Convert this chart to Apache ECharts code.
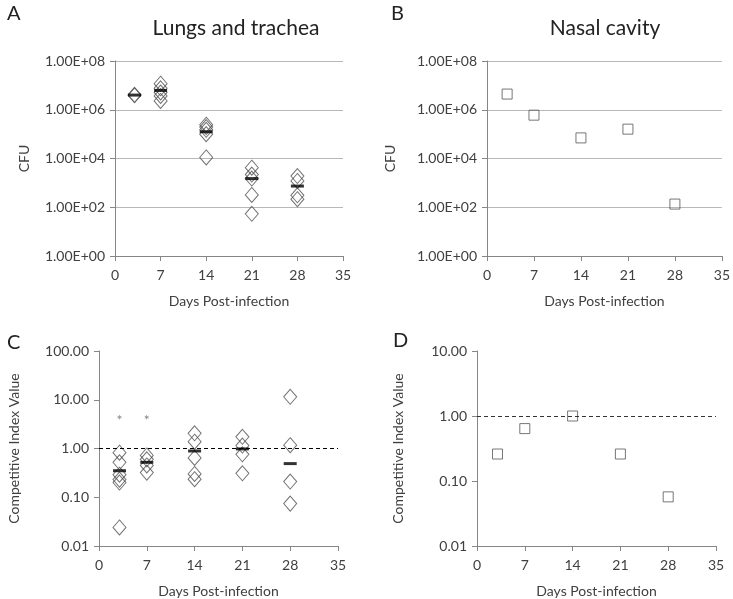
<!DOCTYPE html>
<html><head><meta charset="utf-8">
<script src="https://cdn.jsdelivr.net/npm/echarts@6/dist/echarts.min.js"></script>
<style>html,body{margin:0;padding:0;background:#fff}#c{width:733px;height:599px}</style>
</head><body><div id="c"></div>
<script>
// ---- Data ----
const dayTicks = [0, 7, 14, 21, 28, 35];
// Panel A: Lungs and trachea (CFU)
const lungDays = [3, 3, 7, 7, 7, 7, 7, 14, 14, 14, 14, 14, 21, 21, 21, 21, 21, 28, 28, 28, 28];
const lungCFU  = [3.9e6, 4.1e6, 1.17e7, 7.6e6, 5.1e6, 3.7e6, 2.3e6, 2.45e5, 1.95e5, 1.5e5, 1.0e5, 1.1e4, 4.2e3, 2.2e3, 1.5e3, 3.2e2, 54, 1.9e3, 1.2e3, 3.1e2, 2.15e2];
const lungMeanDays = [3, 7, 14, 21, 28];
const lungMean = [4.0e6, 6.2e6, 1.25e5, 1.5e3, 7.4e2];
// Panel B: Nasal cavity (CFU)
const nasalDays = [3, 7, 14, 21, 28];
const nasalCFU  = [4.4e6, 6.0e5, 7.0e4, 1.6e5, 1.35e2];
// Panel C: Competitive index, lungs and trachea
const ciLungDays = [3, 3, 3, 3, 3, 3, 7, 7, 7, 7, 14, 14, 14, 14, 14, 21, 21, 21, 21, 28, 28, 28, 28];
const ciLung     = [0.82, 0.52, 0.29, 0.23, 0.2, 0.024, 0.72, 0.6, 0.45, 0.32, 2.05, 1.38, 0.64, 0.3, 0.235, 1.74, 1.15, 0.76, 0.31, 11.5, 1.17, 0.21, 0.074];
const ciLungMeanDays = [3, 7, 14, 21, 28];
const ciLungMean = [0.35, 0.52, 0.89, 0.98, 0.49];
const starDays = [3, 7];
const starLevel = [4.3, 4.3];
// Panel D: Competitive index, nasal cavity
const ciNasalDays = [3, 7, 14, 21, 28];
const ciNasal     = [0.26, 0.64, 1.0, 0.26, 0.057];
const reference = 1;

// ---- Chart ----
const FONT = 'Lato';
const txt = '#404040';
const pair = (xs, ys) => xs.map((x, i) => [x, ys[i]]);
const sciFmt = v => { const e = Math.round(Math.log10(v)); return '1.00E+' + (e < 10 ? '0' + e : e); };
const fixFmt = v => Number(v).toFixed(2);

const grids = [
  {left: 115, top: 61, width: 228, height: 195},
  {left: 487, top: 61, width: 238, height: 195},
  {left: 99, top: 351, width: 239, height: 196},
  {left: 477, top: 351, width: 239, height: 196}
];

function xAx(i) {
  return {
    type: 'value', gridIndex: i, min: 0, max: 35, interval: 7,
    name: 'Days Post-infection', nameLocation: 'middle', nameGap: 38,
    nameTextStyle: {fontFamily: FONT, fontSize: 14, color: txt},
    axisLine: {lineStyle: {color: '#868686', width: 1}},
    axisTick: {show: true, length: 5, lineStyle: {color: '#868686'}},
    axisLabel: {fontFamily: FONT, fontSize: 14, color: txt, margin: 12},
    splitLine: {show: false}
  };
}
function yAx(i, opts) {
  return Object.assign({
    type: 'log', logBase: 10, gridIndex: i, interval: 1,
    nameLocation: 'middle', nameRotate: 90,
    nameTextStyle: {fontFamily: FONT, fontSize: 14, color: txt},
    axisLine: {show: true, lineStyle: {color: '#868686', width: 1}},
    axisTick: {show: true, length: 5, lineStyle: {color: '#868686'}},
    axisLabel: {fontFamily: FONT, fontSize: 14, color: txt, margin: 10},
    splitLine: {show: false}
  }, opts);
}

const diamond = {color: 'rgba(0,0,0,0)', borderColor: '#505050', borderWidth: 1};
const squareStyle = {color: 'rgba(0,0,0,0)', borderColor: '#555', borderWidth: 1};
const bar = {type: 'scatter', symbol: 'rect', symbolSize: [13, 3], itemStyle: {color: '#000'}, z: 5};

const option = {
  animation: false,
  backgroundColor: '#fff',
  title: [
    {text: 'Lungs and trachea', left: 231, top: 13, textAlign: 'center', textStyle: {fontFamily: FONT, fontSize: 21, fontWeight: 'normal', color: '#222'}},
    {text: 'Nasal cavity', left: 600, top: 13, textAlign: 'center', textStyle: {fontFamily: FONT, fontSize: 21, fontWeight: 'normal', color: '#222'}},
    {text: 'A', left: 2, top: -1, textStyle: {fontFamily: FONT, fontSize: 20, fontWeight: 'normal', color: '#222'}},
    {text: 'B', left: 386, top: -1, textStyle: {fontFamily: FONT, fontSize: 20, fontWeight: 'normal', color: '#222'}},
    {text: 'C', left: 2, top: 328, textStyle: {fontFamily: FONT, fontSize: 20, fontWeight: 'normal', color: '#222'}},
    {text: 'D', left: 388, top: 326, textStyle: {fontFamily: FONT, fontSize: 20, fontWeight: 'normal', color: '#222'}}
  ],
  grid: grids,
  xAxis: [xAx(0), xAx(1), xAx(2), xAx(3)],
  yAxis: [
    yAx(0, {min: 1, max: 1e8, interval: 2, name: 'CFU', nameGap: 84, axisLabel: {fontFamily: FONT, fontSize: 14, color: txt, margin: 10, formatter: sciFmt},
      splitLine: {show: true, lineStyle: {color: '#b8b8b8', width: 1}}}),
    yAx(1, {min: 1, max: 1e8, interval: 2, name: 'CFU', nameGap: 90, axisLabel: {fontFamily: FONT, fontSize: 14, color: txt, margin: 10, formatter: sciFmt},
      splitLine: {show: true, lineStyle: {color: '#b8b8b8', width: 1}}}),
    yAx(2, {min: 0.01, max: 100, name: 'Competitive Index Value', nameGap: 78, axisLabel: {fontFamily: FONT, fontSize: 14, color: txt, margin: 10, formatter: fixFmt}}),
    yAx(3, {min: 0.01, max: 10, name: 'Competitive Index Value', nameGap: 72, axisLabel: {fontFamily: FONT, fontSize: 14, color: txt, margin: 10, formatter: fixFmt}})
  ],
  series: [
    {type: 'scatter', xAxisIndex: 0, yAxisIndex: 0, symbol: 'diamond', symbolSize: [13, 15], itemStyle: diamond, data: pair(lungDays, lungCFU)},
    Object.assign({xAxisIndex: 0, yAxisIndex: 0, data: pair(lungMeanDays, lungMean)}, bar),
    {type: 'scatter', xAxisIndex: 1, yAxisIndex: 1, symbol: 'rect', symbolSize: 10, itemStyle: squareStyle, data: pair(nasalDays, nasalCFU)},
    {type: 'scatter', xAxisIndex: 2, yAxisIndex: 2, symbol: 'diamond', symbolSize: [13, 15], itemStyle: diamond, data: pair(ciLungDays, ciLung),
      markLine: {silent: true, symbol: 'none', label: {show: false}, lineStyle: {color: '#000', type: [4, 3], width: 1}, data: [{yAxis: reference}]}},
    Object.assign({xAxisIndex: 2, yAxisIndex: 2, data: pair(ciLungMeanDays, ciLungMean)}, bar),
    {type: 'scatter', xAxisIndex: 2, yAxisIndex: 2, symbol: 'circle', symbolSize: 2, itemStyle: {color: 'rgba(0,0,0,0)'}, data: pair(starDays, starLevel),
      label: {show: true, position: 'inside', offset: [0, 3], formatter: '*', fontFamily: FONT, fontSize: 14, color: '#666'}},
    {type: 'scatter', xAxisIndex: 3, yAxisIndex: 3, symbol: 'rect', symbolSize: 10, itemStyle: squareStyle, data: pair(ciNasalDays, ciNasal),
      markLine: {silent: true, symbol: 'none', label: {show: false}, lineStyle: {color: '#333', type: [4, 3], width: 1}, data: [{yAxis: reference}]}}
  ]
};
const chart = echarts.init(document.getElementById('c'), null, {renderer: 'canvas'});
chart.setOption(option);
</script></body></html>
